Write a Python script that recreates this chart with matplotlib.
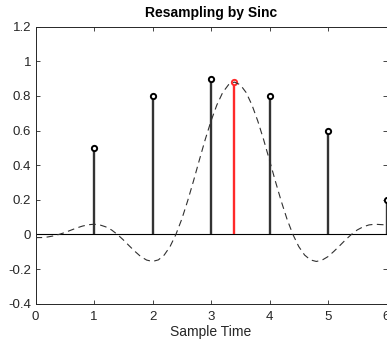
import matplotlib
matplotlib.use("Agg")
import matplotlib.pyplot as plt

INK, STEM, RED = "#262626", "#333333", "#ff2a2a"

# original samples and the new (resampled) point
sample_t = [1, 2, 3, 4, 5, 6]
sample_v = [0.5, 0.8, 0.9, 0.8, 0.6, 0.2]
resample_t = [3.4]
resample_v = [0.88]

# dashed sinc kernel, every 0.1
kernel_t = [0.0, 0.1, 0.2, 0.3, 0.4, 0.5, 0.6, 0.7, 0.8, 0.9,
            1.0, 1.1, 1.2, 1.3, 1.4, 1.5, 1.6, 1.7, 1.8, 1.9,
            2.0, 2.1, 2.2, 2.3, 2.4, 2.5, 2.6, 2.7, 2.8, 2.9,
            3.0, 3.1, 3.2, 3.3, 3.4, 3.5, 3.6, 3.7, 3.8, 3.9,
            4.0, 4.1, 4.2, 4.3, 4.4, 4.5, 4.6, 4.7, 4.8, 4.9,
            5.0, 5.1, 5.2, 5.3, 5.4, 5.5, 5.6, 5.7, 5.8, 5.9, 6.0]
kernel_v = [-0.018, -0.018, -0.015, -0.009, 0.000, 0.011, 0.024, 0.037, 0.048, 0.056,
            0.059, 0.055, 0.044, 0.026, 0.000, -0.031, -0.065, -0.098, -0.128, -0.148,
            -0.156, -0.147, -0.119, -0.070, 0.000, 0.088, 0.193, 0.308, 0.429, 0.547,
            0.655, 0.748, 0.820, 0.865, 0.880, 0.865, 0.820, 0.748, 0.655, 0.547,
            0.429, 0.308, 0.193, 0.088, 0.000, -0.070, -0.119, -0.147, -0.156, -0.148,
            -0.128, -0.098, -0.065, -0.031, 0.000, 0.026, 0.044, 0.055, 0.059, 0.057, 0.055]

xticks = [0, 1, 2, 3, 4, 5, 6]
yticks = [-0.4, -0.2, 0, 0.2, 0.4, 0.6, 0.8, 1, 1.2]
ytick_labels = ["-0.4", "-0.2", "0", "0.2", "0.4", "0.6", "0.8", "1", "1.2"]

plt.rcParams["font.family"] = ["Liberation Sans", "DejaVu Sans"]
plt.rcParams["axes.unicode_minus"] = False

fig = plt.figure(figsize=(3.87, 3.39), dpi=100)
ax = fig.add_axes([35.5 / 387, 1 - 303.7 / 339, 351 / 387, 277 / 339])

ax.axhline(0, color="black", linewidth=0.8, zorder=2)

m, s, b = ax.stem(sample_t, sample_v, basefmt=" ")
plt.setp(s, color=STEM, linewidth=1.7)
plt.setp(m, marker="o", markersize=3.8, markerfacecolor="white",
         markeredgecolor="black", markeredgewidth=1.4)

m, s, b = ax.stem(resample_t, resample_v, basefmt=" ")
plt.setp(s, color=RED, linewidth=1.7)
plt.setp(m, marker="o", markersize=3.8, markerfacecolor="white",
         markeredgecolor=RED, markeredgewidth=1.4)

ax.plot(kernel_t, kernel_v, color="#303030", linewidth=0.8,
        dashes=(6, 4), zorder=4)

ax.set_xlim(0, 6)
ax.set_ylim(-0.4, 1.2)
ax.set_xticks(xticks)
ax.set_yticks(yticks)
ax.set_yticklabels(ytick_labels)
ax.tick_params(direction="in", length=3, width=0.6, colors=INK,
               labelsize=9.5, top=True, right=True, pad=3)
ax.tick_params(axis="x", pad=5)
for side in ax.spines.values():
    side.set_color(INK)
    side.set_linewidth(0.7)

ax.set_xlabel("Sample Time", fontsize=10, color=INK, labelpad=2)
ax.set_title("Resampling by Sinc", fontsize=10, fontweight="bold",
             color="black", pad=7)

fig.savefig("out.png", dpi=100)
